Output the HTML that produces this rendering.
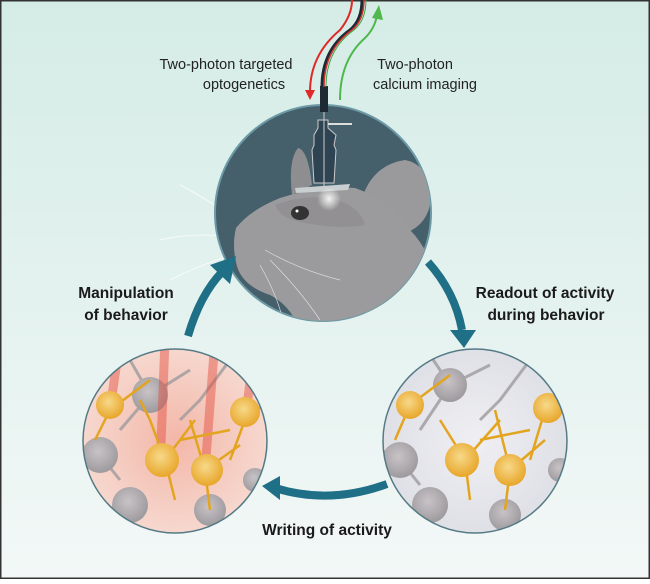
<!DOCTYPE html>
<html><head><style>
html,body{margin:0;padding:0;}
body{width:650px;height:579px;overflow:hidden;font-family:"Liberation Sans",sans-serif;}
</style></head><body>
<svg width="650" height="579" viewBox="0 0 650 579" xmlns="http://www.w3.org/2000/svg">
<defs>
<linearGradient id="bg" x1="0" y1="0" x2="0" y2="1">
<stop offset="0" stop-color="#d5ece6"/><stop offset="0.6" stop-color="#e6f3f0"/><stop offset="1" stop-color="#f3f8f7"/>
</linearGradient>
<radialGradient id="red" cx="0.5" cy="0.5" r="0.6"><stop offset="0" stop-color="#f3b7a8"/><stop offset="1" stop-color="#f7ded6"/></radialGradient>
<radialGradient id="gry" cx="0.5" cy="0.5" r="0.6"><stop offset="0" stop-color="#efeff3"/><stop offset="1" stop-color="#dcdde4"/></radialGradient>
<radialGradient id="cell" cx="0.45" cy="0.4" r="0.6"><stop offset="0" stop-color="#f7d98a"/><stop offset="1" stop-color="#e8a62a"/></radialGradient>
<radialGradient id="gcell" cx="0.45" cy="0.4" r="0.6"><stop offset="0" stop-color="#c9c3c6"/><stop offset="1" stop-color="#9d9a9e"/></radialGradient>
<clipPath id="cl"><circle cx="175" cy="441" r="92"/></clipPath>
<clipPath id="cr"><circle cx="475" cy="441" r="92"/></clipPath>
<clipPath id="ct"><circle cx="323" cy="213" r="108"/></clipPath>
<radialGradient id="glow"><stop offset="0" stop-color="#fff" stop-opacity="0.9"/><stop offset="1" stop-color="#fff" stop-opacity="0"/></radialGradient>
</defs>
<rect x="0" y="0" width="650" height="579" fill="url(#bg)" stroke="#333" stroke-width="3"/>
<g stroke="#fff" stroke-width="0.8" fill="none" opacity="0.9">
<path d="M250 230 Q210 200 180 185"/><path d="M250 240 Q200 230 160 240"/><path d="M250 250 Q210 260 170 280"/>
</g>
<circle cx="323" cy="213" r="108" fill="#455f6b" stroke="#6c9aa6" stroke-width="2"/>
<g clip-path="url(#ct)">
<path d="M292 195 Q288 160 298 148 Q308 150 312 185 Z" fill="#8e8e90"/>
<path d="M360 205 Q370 165 405 160 Q432 165 430 205 Q425 228 400 235 Z" fill="#9a9a9c"/>
<path d="M236 228 Q250 210 280 198 Q320 185 355 188 Q390 200 410 230 Q440 260 445 330 L300 330 Q290 305 270 295 Q240 285 236 262 Q232 245 236 228 Z" fill="#9b9b9d"/>
<path d="M275 205 Q300 195 330 198 Q360 205 365 225 Q340 230 300 222 Q280 218 275 205 Z" fill="#929092"/>
<ellipse cx="300" cy="213" rx="9" ry="7" fill="#333"/><circle cx="297" cy="211" r="1.5" fill="#fff"/>
<path d="M295 188 L350 184 L348 190 L296 193 Z" fill="#c9cfd0"/>
<circle cx="329" cy="199" r="12" fill="url(#glow)"/>
<g stroke="#ddd" stroke-width="0.7" fill="none"><path d="M265 250 Q300 270 340 280"/><path d="M270 260 Q300 290 320 320"/><path d="M260 265 Q280 300 285 330"/></g>
</g>
<path d="M314 135 L318 128 L318 120 L328 120 L328 128 L336 135 L334 145 L336 150 L334 183 L314 183 L312 150 L314 145 Z" fill="#2f4452" stroke="#ccc" stroke-width="1"/>
<line x1="324" y1="110" x2="324" y2="192" stroke="#ccc" stroke-width="1"/>
<rect x="320" y="86" width="8" height="26" fill="#1e2a33"/>
<path d="M328 124 L352 124" stroke="#ddd" stroke-width="2"/>
<path d="M322 87 Q322 50 350 30 Q362 20 362 0" stroke="#1e2a33" stroke-width="3" fill="none"/>
<path d="M324 87 Q324 50 352 30 Q364 20 364 0" stroke="#d43030" stroke-width="1.5" fill="none"/>
<path d="M326 87 Q326 50 354 30 Q366 20 366 0" stroke="#3aa74a" stroke-width="1" fill="none"/>
<path d="M310 92 Q310 55 340 30 Q352 15 352 0" stroke="#e02828" stroke-width="2" fill="none"/>
<path d="M305 90 L310 100 L315 90" fill="#e02828"/>
<path d="M340 100 Q340 60 365 38 Q375 28 377 15" stroke="#4fb74b" stroke-width="2" fill="none"/>
<path d="M372 18 L379 5 L383 20" fill="#4fb74b"/>
<text x="226" y="69" font-size="14.5" fill="#222" text-anchor="middle">Two-photon targeted</text>
<text x="244" y="89" font-size="14.5" fill="#222" text-anchor="middle">optogenetics</text>
<text x="415" y="69" font-size="14.5" fill="#222" text-anchor="middle">Two-photon</text>
<text x="425" y="89" font-size="14.5" fill="#222" text-anchor="middle">calcium imaging</text>
<!-- left circle -->
<circle cx="175" cy="441" r="92" fill="url(#red)"/>
<g clip-path="url(#cl)">
<g stroke="#9d9a9e" stroke-width="3" fill="none" opacity="0.8"><path d="M150 395 L130 360 M150 395 L190 370 M100 455 L70 440 M100 455 L120 480 M130 505 L100 530 M210 510 L240 530 M150 395 L120 430 M230 360 L200 400 L180 420"/></g>
<g fill="url(#gcell)"><circle cx="150" cy="395" r="18"/><circle cx="100" cy="455" r="18"/><circle cx="130" cy="505" r="18"/><circle cx="210" cy="510" r="16"/><circle cx="255" cy="480" r="12"/></g>
<g stroke="#e24b3b" stroke-width="9" opacity="0.45"><line x1="120" y1="340" x2="110" y2="410"/><line x1="165" y1="340" x2="160" y2="470"/><line x1="215" y1="340" x2="205" y2="470"/><line x1="255" y1="345" x2="245" y2="420"/></g>
<g stroke="#e3a41e" stroke-width="2.5" fill="none"><path d="M110 410 L95 440 M110 410 L150 380 M165 460 L175 500 M165 460 L150 420 L140 400 M165 460 L195 420 M205 470 L190 420 M205 470 L240 445 M205 470 L210 510 M245 420 L230 460 M245 420 L270 400 M180 440 L230 430"/></g>
<g fill="url(#cell)"><circle cx="110" cy="405" r="14"/><circle cx="162" cy="460" r="17"/><circle cx="207" cy="470" r="16"/><circle cx="245" cy="412" r="15"/></g>
</g>
<circle cx="175" cy="441" r="92" fill="none" stroke="#557a85" stroke-width="1.5"/>
<!-- right circle -->
<circle cx="475" cy="441" r="92" fill="url(#gry)"/>
<g clip-path="url(#cr)">
<g stroke="#9d9a9e" stroke-width="3" fill="none" opacity="0.8"><path d="M450 385 L430 355 M450 385 L490 365 M400 460 L370 445 M400 460 L420 485 M430 505 L400 530 M505 515 L540 530 M450 385 L420 430 M530 360 L500 400 L480 420"/></g>
<g fill="url(#gcell)"><circle cx="450" cy="385" r="17"/><circle cx="400" cy="460" r="18"/><circle cx="430" cy="505" r="18"/><circle cx="505" cy="515" r="16"/><circle cx="560" cy="470" r="12"/></g>
<g stroke="#e3a41e" stroke-width="2.5" fill="none"><path d="M410 405 L395 440 M410 405 L450 375 M465 460 L470 500 M465 460 L440 420 M465 460 L500 420 M510 470 L495 410 M510 470 L545 440 M510 470 L505 510 M545 410 L530 460 M545 410 L570 395 M480 440 L530 430"/></g>
<g fill="url(#cell)"><circle cx="410" cy="405" r="14"/><circle cx="462" cy="460" r="17"/><circle cx="510" cy="470" r="16"/><circle cx="548" cy="408" r="15"/></g>
</g>
<circle cx="475" cy="441" r="92" fill="none" stroke="#557a85" stroke-width="1.5"/>
<g fill="none" stroke="#1f6f86" stroke-width="8">
<path d="M188 336 Q200 295 222 272"/>
<path d="M428 262 Q455 292 462 330"/>
<path d="M387 484 Q330 505 275 488"/>
</g>
<g fill="#1f6f86">
<path d="M210 265 L236 256 L230 284 Z"/>
<path d="M450 330 L476 330 L464 348 Z"/>
<path d="M280 476 L262 486 L280 500 Z"/>
</g>
<g font-size="15.5" font-weight="bold" fill="#1a1a1a">
<text x="126" y="298" text-anchor="middle">Manipulation</text>
<text x="126" y="320" text-anchor="middle">of behavior</text>
<text x="545" y="298" text-anchor="middle">Readout of activity</text>
<text x="546" y="320" text-anchor="middle">during behavior</text>
<text x="327" y="535" text-anchor="middle">Writing of activity</text>
</g>
</svg>
</body></html>
